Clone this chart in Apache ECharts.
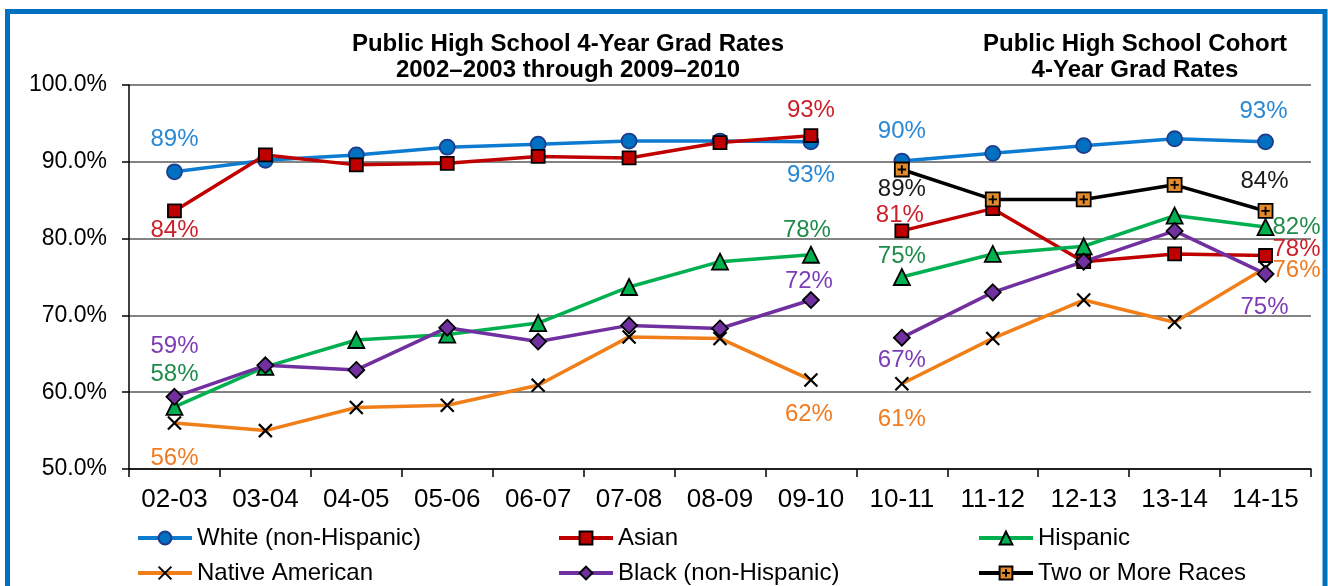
<!DOCTYPE html>
<html>
<head>
<meta charset="utf-8">
<title>Public High School 4-Year Grad Rates</title>
<script src="https://cdn.jsdelivr.net/npm/echarts@6/dist/echarts.min.js"></script>
<style>
  html, body { margin: 0; padding: 0; background: #fff; }
  #main { width: 1328px; height: 586px; }
</style>
</head>
<body>
<div id="main"></div>
<script>
// school years on the x axis
const years = ['02-03', '03-04', '04-05', '05-06', '06-07', '07-08', '08-09',
  '09-10', '10-11', '11-12', '12-13', '13-14', '14-15'];
const yTicks = [50, 60, 70, 80, 90, 100];

// grad rates (%)
const white    = [88.7, 90.2, 90.9, 91.9, 92.3, 92.7, 92.7, 92.6, 90.1, 91.1, 92.1, 93.0, 92.6];
const asian    = [83.6, 90.9, 89.6, 89.8, 90.7, 90.5, 92.5, 93.4, 81.0, 83.9, 77.0, 78.0, 77.8];
const hispanic = [58.1, 63.3, 66.8, 67.5, 69.0, 73.7, 77.0, 77.9, 75.0, 78.0, 79.0, 83.0, 81.5];
const native   = [56.0, 55.0, 58.0, 58.3, 60.9, 67.2, 67.0, 61.6, 61.1, 67.0, 72.0, 69.1, 76.2];
const black    = [59.4, 63.5, 62.9, 68.4, 66.6, 68.7, 68.3, 72.0, 67.1, 73.0, 77.0, 81.0, 75.4];
const twoMore  = [null, null, null, null, null, null, null, null, 89.0, 85.1, 85.1, 87.0, 83.6];

// where the value labels sit, relative to their point
const labelOffsets = {
  white:    { 0: [0, -32], 7: [0, 34], 8: [0, -30], 12: [-2, -30] },
  asian:    { 0: [0, 19], 7: [0, -25], 8: [-2, -16], 12: [31, -6] },
  hispanic: { 0: [0, -32], 7: [-4, -24], 8: [0, -21], 12: [31, 0] },
  native:   { 0: [0, 35], 7: [-2, 34], 8: [0, 36], 12: [31, 3] },
  black:    { 0: [0, -50], 7: [-2, -19], 8: [0, 23], 12: [-1, 33] },
  twoMore:  { 8: [0, 20], 12: [-1, -30] }
};

const FONT = '"Liberation Sans", Arial, sans-serif';
const xPath = 'path://M0,0L10,10M10,0L0,10';
const plusSq = 'path://M0,0H10V10H0Z M5,2V8 M2,5H8';

// one segment of a group: 02-03..09-10 or 10-11..14-15 (the lines break between)
function segment(name, values, from, to, offsets, st) {
  return {
    name: name,
    type: 'line',
    data: values.map((v, i) => {
      if (i < from || i > to || v == null) return null;
      if (offsets[i]) return { value: v, label: { show: true, offset: offsets[i] } };
      return v;
    }),
    symbol: st.symbol,
    symbolSize: st.size,
    showAllSymbol: true,
    connectNulls: false,
    lineStyle: { color: st.line, width: 3.5 },
    itemStyle: { color: st.fill, borderColor: st.border, borderWidth: st.bw || 1.8 },
    label: {
      show: false,
      position: 'inside',
      formatter: p => Math.round(p.value) + '%',
      color: st.label,
      fontSize: 24,
      fontFamily: FONT
    },
    emphasis: { disabled: true }
  };
}

const styles = {
  white:    { symbol: 'circle', size: 15, line: '#0C7BD0', fill: '#0070C0', border: '#1F3B8C', label: '#2A88D4' },
  asian:    { symbol: 'rect', size: 13, line: '#C00000', fill: '#C00000', border: '#000', label: '#CC1F2A' },
  hispanic: { symbol: 'triangle', size: 16, line: '#00B050', fill: '#00B050', border: '#000', label: '#1E8B4A' },
  native:   { symbol: xPath, size: 13, line: '#F07F1A', fill: '#000', border: '#000', bw: 2.2, label: '#F07C22' },
  black:    { symbol: 'diamond', size: 16, line: '#7030A0', fill: '#7030A0', border: '#000', label: '#7D3CB5' },
  twoMore:  { symbol: plusSq, size: 14, line: '#000', fill: '#E38A2C', border: '#000', label: '#1a1a1a' }
};

const groups = [
  ['White (non-Hispanic)', white, 'white'],
  ['Asian', asian, 'asian'],
  ['Hispanic', hispanic, 'hispanic'],
  ['Native American', native, 'native'],
  ['Black (non-Hispanic)', black, 'black'],
  ['Two or More Races', twoMore, 'twoMore']
];

const series = [];
groups.forEach(g => {
  series.push(segment(g[0], g[1], 0, 7, labelOffsets[g[2]], styles[g[2]]));
  series.push(segment(g[0], g[1], 8, 12, labelOffsets[g[2]], styles[g[2]]));
});

const legendCommon = {
  orient: 'vertical',
  top: 526,
  padding: 0,
  itemWidth: 54,
  itemHeight: 16,
  itemGap: 11,
  lineStyle: { width: 4 },
  textStyle: { fontSize: 24, color: '#000', fontFamily: FONT, lineHeight: 24 }
};

var myChart = echarts.init(document.getElementById('main'));
myChart.setOption({
  animation: false,
  backgroundColor: '#fff',
  textStyle: { fontFamily: FONT },
  graphic: [
    {
      type: 'rect', z: -10, silent: true,
      shape: { x: 7.5, y: 11.5, width: 1317.5, height: 700 },
      style: { fill: 'none', stroke: '#0070C0', lineWidth: 5 }
    },
    {
      type: 'text', x: 568, y: 57,
      style: {
        text: 'Public High School 4-Year Grad Rates\n2002–2003 through 2009–2010',
        fontSize: 24, fontWeight: 'bold', fontFamily: FONT, lineHeight: 26,
        fill: '#000', align: 'center', verticalAlign: 'middle'
      }
    },
    {
      type: 'text', x: 1135, y: 57,
      style: {
        text: 'Public High School Cohort\n4-Year Grad Rates',
        fontSize: 24, fontWeight: 'bold', fontFamily: FONT, lineHeight: 26,
        fill: '#000', align: 'center', verticalAlign: 'middle'
      }
    }
  ],
  grid: { left: 129, right: 17, top: 85, bottom: 117 },
  legend: [
    Object.assign({ left: 136, data: ['White (non-Hispanic)', 'Native American'] }, legendCommon),
    Object.assign({ left: 557, data: ['Asian', 'Black (non-Hispanic)'] }, legendCommon),
    Object.assign({ left: 977, data: ['Hispanic', 'Two or More Races'] }, legendCommon)
  ],
  xAxis: {
    type: 'category',
    data: years,
    boundaryGap: true,
    axisLine: { lineStyle: { color: '#000', width: 1.5 } },
    axisTick: { show: true, length: 8, lineStyle: { color: '#000', width: 1.5 } },
    axisLabel: { fontSize: 26, color: '#000', margin: 18, interval: 0 },
    splitLine: { show: false }
  },
  yAxis: {
    type: 'value',
    min: yTicks[0],
    max: yTicks[yTicks.length - 1],
    interval: 10,
    axisLine: { show: true, lineStyle: { color: '#000', width: 1.5 } },
    axisTick: { show: true, length: 7, lineStyle: { color: '#000', width: 1.5 } },
    axisLabel: { fontSize: 23, color: '#000', margin: 22, formatter: v => v.toFixed(1) + '%' },
    splitLine: { show: true, lineStyle: { color: '#5a5a5a', width: 1.5 } }
  },
  series: series
});
</script>
</body>
</html>
